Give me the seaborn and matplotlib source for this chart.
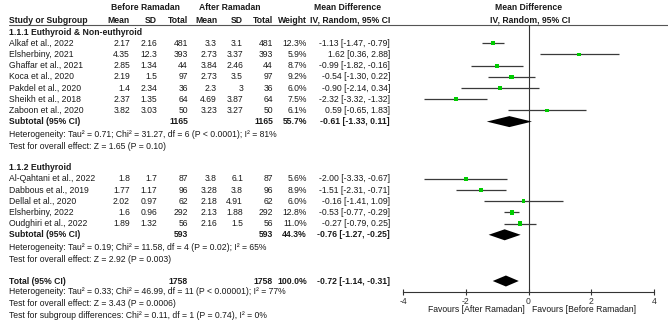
import matplotlib
matplotlib.use("Agg")
import matplotlib.pyplot as plt
import seaborn as sns
import pandas as pd

sns.set_theme(style="white")
plt.rcParams['font.family'] = ['Liberation Sans', 'DejaVu Sans']
plt.rcParams['axes.unicode_minus'] = False

# Datos: subgrupo 1.1.1 (Euthyroid & Non-euthyroid)
g1_study = ["Alkaf et al., 2022", "Elsherbiny, 2021", "Ghaffar et al., 2021", "Koca et al., 2020",
            "Pakdel et al., 2020", "Sheikh et al., 2018", "Zaboon et al., 2020"]
g1_before_mean = [2.17, 4.35, 2.85, 2.19, 1.4, 2.37, 3.82]
g1_before_sd = [2.16, 12.3, 1.34, 1.5, 2.34, 1.35, 3.03]
g1_before_n = [481, 393, 44, 97, 36, 64, 50]
g1_after_mean = [3.3, 2.73, 3.84, 2.73, 2.3, 4.69, 3.23]
g1_after_sd = [3.1, 3.37, 2.46, 3.5, 3, 3.87, 3.27]
g1_after_n = [481, 393, 44, 97, 36, 64, 50]
g1_weight = [12.3, 5.9, 8.7, 9.2, 6.0, 7.5, 6.1]
g1_md = [-1.13, 1.62, -0.99, -0.54, -0.90, -2.32, 0.59]
g1_lo = [-1.47, 0.36, -1.82, -1.30, -2.14, -3.32, -0.65]
g1_hi = [-0.79, 2.88, -0.16, 0.22, 0.34, -1.32, 1.83]
g1_sub = dict(n1=1165, n2=1165, w=55.7, md=-0.61, lo=-1.33, hi=0.11)
g1_het = "Heterogeneity: Tau² = 0.71; Chi² = 31.27, df = 6 (P < 0.0001); I² = 81%"
g1_test = "Test for overall effect: Z = 1.65 (P = 0.10)"

# Datos: subgrupo 1.1.2 (Euthyroid)
g2_study = ["Al-Qahtani et al., 2022", "Dabbous et al., 2019", "Dellal et al., 2020",
            "Elsherbiny, 2022", "Oudghiri et al., 2022"]
g2_before_mean = [1.8, 1.77, 2.02, 1.6, 1.89]
g2_before_sd = [1.7, 1.17, 0.97, 0.96, 1.32]
g2_before_n = [87, 96, 62, 292, 56]
g2_after_mean = [3.8, 3.28, 2.18, 2.13, 2.16]
g2_after_sd = [6.1, 3.8, 4.91, 1.88, 1.5]
g2_after_n = [87, 96, 62, 292, 56]
g2_weight = [5.6, 8.9, 6.0, 12.8, 11.0]
g2_md = [-2.00, -1.51, -0.16, -0.53, -0.27]
g2_lo = [-3.33, -2.31, -1.41, -0.77, -0.79]
g2_hi = [-0.67, -0.71, 1.09, -0.29, 0.25]
g2_sub = dict(n1=593, n2=593, w=44.3, md=-0.76, lo=-1.27, hi=-0.25)
g2_het = "Heterogeneity: Tau² = 0.19; Chi² = 11.58, df = 4 (P = 0.02); I² = 65%"
g2_test = "Test for overall effect: Z = 2.92 (P = 0.003)"

total = dict(n1=1758, n2=1758, w=100.0, md=-0.72, lo=-1.14, hi=-0.31)
total_het = "Heterogeneity: Tau² = 0.33; Chi² = 46.99, df = 11 (P < 0.00001); I² = 77%"
total_test = "Test for overall effect: Z = 3.43 (P = 0.0006)"
sub_test = "Test for subgroup differences: Chi² = 0.11, df = 1 (P = 0.74), I² = 0%"

groups = [
    ("1.1.1 Euthyroid & Non-euthyroid", g1_study, g1_before_mean, g1_before_sd, g1_before_n,
     g1_after_mean, g1_after_sd, g1_after_n, g1_weight, g1_md, g1_lo, g1_hi, g1_sub, g1_het, g1_test),
    ("1.1.2 Euthyroid", g2_study, g2_before_mean, g2_before_sd, g2_before_n,
     g2_after_mean, g2_after_sd, g2_after_n, g2_weight, g2_md, g2_lo, g2_hi, g2_sub, g2_het, g2_test),
]

# Figura y ejes (coordenadas en pixeles para la tabla)
W, H = 668, 322
fig = plt.figure(figsize=(W / 100, H / 100), dpi=100)
ax = fig.add_axes([0, 0, 1, 1])
ax.set_xlim(0, W)
ax.set_ylim(H, 0)
ax.axis('off')

FS = 6.2
TC = '#1a1a1a'
cols = [130, 157, 188, 217, 243, 273, 307]  # bordes derechos de columnas
ci_x = 390

def txt(x, y, s, ha='right', bold=False, size=FS):
    ax.text(x, y, s, ha=ha, va='center', fontsize=size, color=TC,
            fontweight='bold' if bold else 'normal')

def ci_str(md, lo, hi):
    return f"{md:.2f} [{lo:.2f}, {hi:.2f}]"

# Encabezados
txt(145, 7, "Before Ramadan", ha='center', bold=True)
txt(230, 7, "After Ramadan", ha='center', bold=True)
txt(348, 7, "Mean Difference", ha='center', bold=True)
txt(529, 7, "Mean Difference", ha='center', bold=True)
txt(9, 20, "Study or Subgroup", ha='left', bold=True)
for x, h in zip(cols, ["Mean", "SD", "Total", "Mean", "SD", "Total", "Weight"]):
    txt(x, 20, h, bold=True)
txt(ci_x, 20, "IV, Random, 95% CI", bold=True)
txt(530, 20, "IV, Random, 95% CI", ha='center', bold=True)
ax.plot([9, W], [25, 25], color='#555555', lw=0.8)

# Panel del forest plot
x_left, x_right, y_top, y_bot = 403, 654, 25, 292
fax = fig.add_axes([x_left / W, (H - y_bot) / H, (x_right - x_left) / W, (y_bot - y_top) / H])
fax.patch.set_alpha(0)

points = []
diamonds = []
y = 32
step = 11.2
for (label, study, bm, bsd, bn, am, asd, an, w, md, lo, hi, sub, het, test) in groups:
    txt(9, y, label, ha='left', bold=True)
    y += step
    for i in range(len(study)):
        txt(9, y, study[i], ha='left')
        vals = [f"{bm[i]:g}", f"{bsd[i]:g}", f"{bn[i]}", f"{am[i]:g}", f"{asd[i]:g}",
                f"{an[i]}", f"{w[i]:.1f}%"]
        for x, v in zip(cols, vals):
            txt(x, y, v)
        txt(ci_x, y, ci_str(md[i], lo[i], hi[i]))
        points.append(dict(md=md[i], lo=lo[i], hi=hi[i], w=w[i], y=y))
        y += step
    txt(9, y, "Subtotal (95% CI)", ha='left', bold=True)
    txt(cols[2], y, f"{sub['n1']}", bold=True)
    txt(cols[5], y, f"{sub['n2']}", bold=True)
    txt(cols[6], y, f"{sub['w']:.1f}%", bold=True)
    txt(ci_x, y, ci_str(sub['md'], sub['lo'], sub['hi']), bold=True)
    diamonds.append((sub['md'], sub['lo'], sub['hi'], y))
    y += 13
    txt(9, y, het, ha='left')
    y += 12
    txt(9, y, test, ha='left')
    y += 21

y = 281
txt(9, y, "Total (95% CI)", ha='left', bold=True)
txt(cols[2], y, f"{total['n1']}", bold=True)
txt(cols[5], y, f"{total['n2']}", bold=True)
txt(cols[6], y, f"{total['w']:.1f}%", bold=True)
txt(ci_x, y, ci_str(total['md'], total['lo'], total['hi']), bold=True)
diamonds.append((total['md'], total['lo'], total['hi'], y))
txt(9, 292, total_het, ha='left')
txt(9, 304, total_test, ha='left')
txt(9, 315, sub_test, ha='left')

df = pd.DataFrame(points)
fax.hlines(df['y'], df['lo'], df['hi'], color='#3a3a3a', lw=0.9, zorder=2)
sns.scatterplot(data=df, x='md', y='y', size='w', sizes=(7, 11), marker='s',
                color='#00cc00', edgecolor='none', legend=False, ax=fax, zorder=3)
for md, lo, hi, yy in diamonds:
    fax.fill([lo, md, hi, md], [yy, yy - 5.5, yy, yy + 5.5], color='black', lw=0, zorder=3)
fax.axvline(0, color='#333333', lw=0.8, zorder=1)

fax.set_xlim(-4, 4)
fax.set_ylim(y_bot, y_top)
fax.set_xlabel('')
fax.set_ylabel('')
fax.set_yticks([])
fax.set_xticks([-4, -2, 0, 2, 4])
for s in ['top', 'left', 'right']:
    fax.spines[s].set_visible(False)
fax.spines['bottom'].set_color('#333333')
fax.spines['bottom'].set_linewidth(0.8)
fax.tick_params(axis='x', direction='inout', length=5, width=0.8, labelsize=FS,
                pad=1, colors='#333333', bottom=True)
fax.text(-0.12, 310, "Favours [After Ramadan]", ha='right', va='center', fontsize=FS, color=TC, clip_on=False)
fax.text(0.12, 310, "Favours [Before Ramadan]", ha='left', va='center', fontsize=FS, color=TC, clip_on=False)

fig.savefig('out.png', dpi=100)
